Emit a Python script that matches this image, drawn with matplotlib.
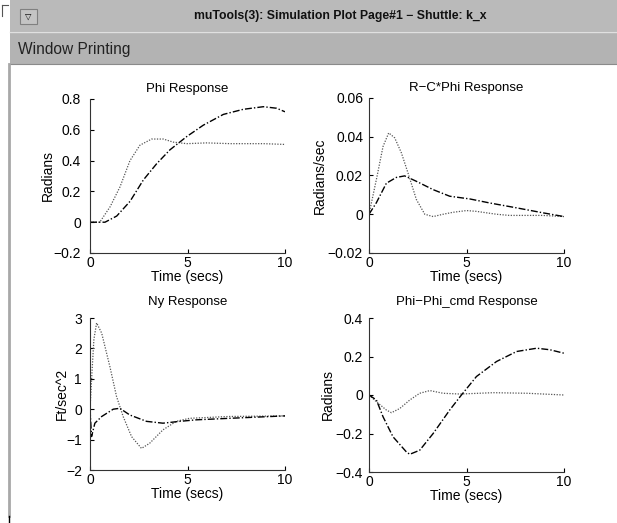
import numpy as np
import matplotlib
matplotlib.use("Agg")
import matplotlib.pyplot as plt
from matplotlib.lines import Line2D
from matplotlib.patches import Rectangle

#%%
### Data ###
# Phi Response
phi_dot_t = [0, 0.5, 1.03, 1.54, 2.05, 2.56, 3.16, 3.76, 4.27, 4.96, 5.98, 7.2, 8.9, 10]
phi_dot_y = [0, 0, 0.10, 0.23, 0.40, 0.50, 0.54, 0.54, 0.52, 0.51, 0.515, 0.51, 0.51, 0.505]
phi_dd_t = [0, 0.77, 1.37, 2.05, 2.74, 3.42, 4.1, 4.96, 5.81, 6.84, 7.86, 8.89, 9.57, 10]
phi_dd_y = [0, 0, 0.04, 0.135, 0.275, 0.38, 0.47, 0.556, 0.63, 0.70, 0.733, 0.75, 0.74, 0.717]

# R-C*Phi Response
rc_dot_t = [0, 0.38, 0.72, 1.01, 1.32, 1.66, 2.0, 2.43, 2.86, 3.29, 3.8, 4.3, 5.0, 5.5, 6.54, 7.2, 8.9, 10]
rc_dot_y = [0, 0.018, 0.035, 0.042, 0.0394, 0.0317, 0.0213, 0.0076, 0.0, -0.0012, 0.0, 0.001, 0.0019,
            0.0015, 0.0, -0.0006, -0.0006, -0.0012]
rc_dd_t = [0, 0.38, 0.89, 1.4, 1.83, 2.43, 3.29, 4.14, 5.17, 6.2, 7.57, 8.94, 10]
rc_dd_y = [0, 0.006, 0.016, 0.019, 0.0198, 0.017, 0.0127, 0.0093, 0.0079, 0.0058, 0.0033, 0.0007, -0.0012]

# Ny Response
ny_dot_t = [0, 0.1, 0.2, 0.34, 0.6, 1.02, 1.36, 1.7, 2.13, 2.64, 3.06, 3.74, 4.42, 5.1, 7.1, 10]
ny_dot_y = [0, 1.2, 2.3, 2.84, 2.5, 1.4, 0.42, -0.24, -0.9, -1.29, -1.12, -0.68, -0.4, -0.3, -0.24, -0.22]
ny_dd_t = [0, 0.08, 0.25, 0.6, 1.19, 1.53, 2.04, 2.9, 3.74, 4.6, 5.44, 7.14, 10]
ny_dd_y = [0, -0.9, -0.46, -0.24, 0.0, 0.03, -0.19, -0.4, -0.46, -0.4, -0.35, -0.3, -0.22]

# Phi-Phi_cmd Response
pc_dot_t = [0, 0.38, 0.89, 1.15, 1.58, 2.09, 2.6, 3.12, 3.8, 4.66, 6.37, 8.1, 10]
pc_dot_y = [0, -0.035, -0.078, -0.092, -0.07, -0.026, 0.009, 0.023, 0.009, 0.005, 0.012, 0.009, 0.0]
pc_dd_t = [0, 0.38, 0.72, 1.23, 1.92, 2.09, 2.6, 3.29, 4.14, 4.74, 5.51, 6.54, 7.57, 8.6, 9.28, 10]
pc_dd_y = [0, -0.026, -0.113, -0.217, -0.296, -0.308, -0.287, -0.2, -0.078, 0.0, 0.096, 0.174,
           0.226, 0.243, 0.235, 0.217]

titles = ["Phi Response", "R\u2212C*Phi Response", "Ny Response", "Phi\u2212Phi_cmd Response"]
ylabels = ["Radians", "Radians/sec", "Ft/sec^2", "Radians"]
xticks = [0, 5, 10]
yticks = [[-0.2, 0, 0.2, 0.4, 0.6, 0.8],
          [-0.02, 0, 0.02, 0.04, 0.06],
          [-2, -1, 0, 1, 2, 3],
          [-0.4, -0.2, 0, 0.2, 0.4]]
yticklabels = [["\u22120.2", "0", "0.2", "0.4", "0.6", "0.8"],
               ["\u22120.02", "0", "0.02", "0.04", "0.06"],
               ["\u22122", "\u22121", "0", "1", "2", "3"],
               ["\u22120.4", "\u22120.2", "0", "0.2", "0.4"]]
series = [(phi_dot_t, phi_dot_y, phi_dd_t, phi_dd_y),
          (rc_dot_t, rc_dot_y, rc_dd_t, rc_dd_y),
          (ny_dot_t, ny_dot_y, ny_dd_t, ny_dd_y),
          (pc_dot_t, pc_dot_y, pc_dd_t, pc_dd_y)]

#%%
### Figure / window chrome ###
W, H = 617, 523
plt.rcParams["font.family"] = ["Liberation Sans", "DejaVu Sans"]
fig = plt.figure(figsize=(W / 100, H / 100), dpi=100)
fig.patch.set_facecolor("white")

def px(x, y):
    return x / W, 1 - y / H

# title bar and menu bar
fig.patches.append(Rectangle(px(10, 31), (W - 10) / W, 31 / H, transform=fig.transFigure,
                             facecolor="#bababa", edgecolor="none"))
fig.patches.append(Rectangle(px(10, 64), (W - 10) / W, 33 / H, transform=fig.transFigure,
                             facecolor="#b3b3b3", edgecolor="none"))
fig.lines.append(Line2D([10 / W, 1], [1 - 31.5 / H] * 2, transform=fig.transFigure, color="#e0e0e0", lw=1))
fig.lines.append(Line2D([10 / W, 1], [1 - 64 / H] * 2, transform=fig.transFigure, color="#8a8a8a", lw=0.8))
# button
fig.patches.append(Rectangle(px(20, 24), 17 / W, 15 / H, transform=fig.transFigure,
                             facecolor="#c4c4c4", edgecolor="#808080", lw=0.8))
fig.text(28.5 / W, 1 - 16.5 / H, "\u25bd", fontsize=6, ha="center", va="center", family="DejaVu Sans")
# corner mark and left border
fig.lines.append(Line2D([2 / W, 8 / W], [1 - 5 / H] * 2, transform=fig.transFigure, color="#555555", lw=0.8))
fig.lines.append(Line2D([2 / W, 2 / W], [1 - 5 / H, 1 - 16 / H], transform=fig.transFigure, color="#555555", lw=0.8))
fig.lines.append(Line2D([9 / W, 9 / W], [1 - 64 / H, 1 - 516 / H], transform=fig.transFigure, color="#a8a8a8", lw=2))
fig.lines.append(Line2D([9 / W, 9 / W], [1 - 516 / H, 1 - 522 / H], transform=fig.transFigure, color="black", lw=1))

fig.text(340 / W, 1 - 16 / H, "muTools(3): Simulation Plot Page#1 \u2212 Shuttle: k_x",
         ha="center", va="center", fontsize=8.8, fontweight="bold", color="#111111")
fig.text(18 / W, 1 - 49 / H, "Window Printing", ha="left", va="center", fontsize=11.2, color="#222222")

#%%
### The four response plots ###
boxes = [(90, 285, 99, 253), (369, 564, 98, 253), (90, 285, 318, 470), (369, 564, 318, 472)]
ypads = [6.5, 4.3, 5.8, 4.3]
title_pads = [5, 5, 9, 9]
ylabel_x = [48, 320, 62, 328]   # centre of the y label, px

for i, (x0, x1, y0, y1) in enumerate(boxes):
    ax = fig.add_axes([x0 / W, 1 - y1 / H, (x1 - x0) / W, (y1 - y0) / H])
    dot_t, dot_y, dd_t, dd_y = series[i]
    ax.plot(dot_t, dot_y, color="#555555", lw=0.9, linestyle=(0, (1, 1.2)))
    ax.plot(dd_t, dd_y, color="black", lw=1, linestyle=(0, (5, 1.5, 1, 1.5)))
    ax.set_xlim(0, 10)
    ax.set_ylim(yticks[i][0], yticks[i][-1])
    ax.set_xticks(xticks)
    ax.set_xticklabels([str(t) for t in xticks])
    ax.set_yticks(yticks[i])
    ax.set_yticklabels(yticklabels[i])
    ax.spines["top"].set_visible(False)
    ax.spines["right"].set_visible(False)
    ax.spines["left"].set_color("#333333")
    ax.spines["bottom"].set_color("#333333")
    ax.tick_params(direction="in", length=3, width=0.8, labelsize=10)
    ax.tick_params(axis="x", pad=2)
    ax.tick_params(axis="y", pad=ypads[i])
    ax.set_title(titles[i], fontsize=9.5, pad=title_pads[i])
    ax.set_xlabel("Time (secs)", fontsize=10, labelpad=0)
    ax.set_ylabel(ylabels[i], fontsize=10, va="center")
    ax.yaxis.set_label_coords((ylabel_x[i] - x0) / (x1 - x0), 0.5)
    ax.patch.set_alpha(0)

fig.savefig("out.png", dpi=100)
